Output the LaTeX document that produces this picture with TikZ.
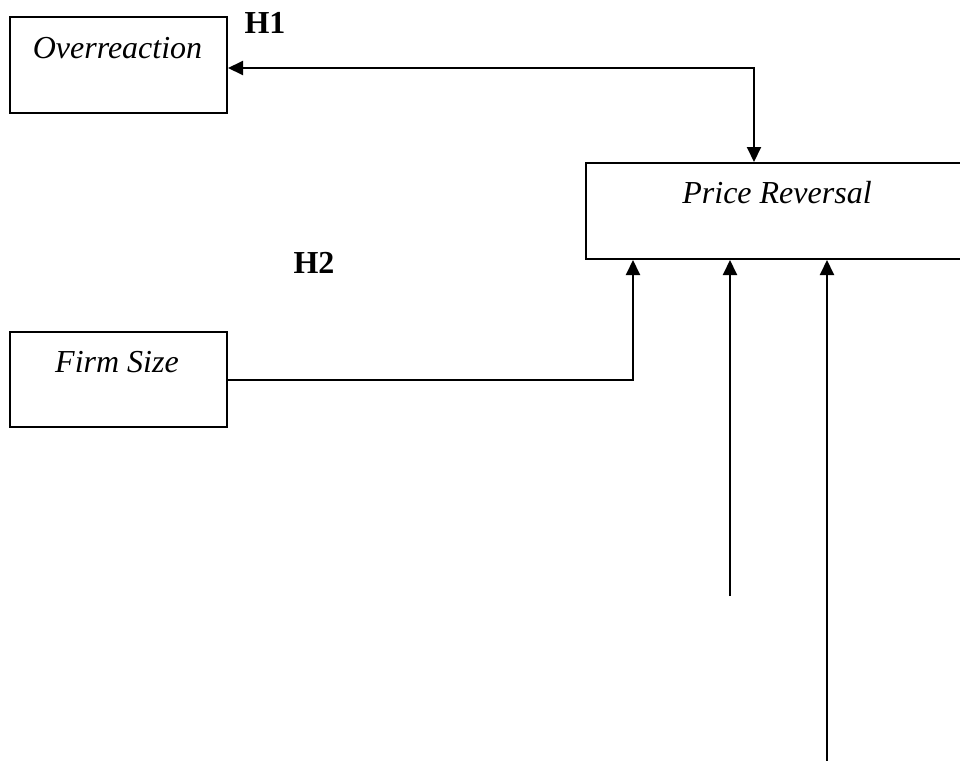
\documentclass[tikz,border=0pt]{standalone}
\usepackage{fontspec}
\setmainfont{Liberation Serif}
\usetikzlibrary{arrows.meta}
\begin{document}
\begin{tikzpicture}[x=0.5pt,y=-0.5pt,
  box/.style={draw,line width=1pt,rectangle,inner sep=0pt},
  lbl/.style={font=\fontsize{16}{19}\selectfont\itshape,anchor=base,inner sep=0pt},
  hyp/.style={font=\fontsize{16}{19}\selectfont\bfseries,anchor=base,inner sep=0pt},
  conn/.style={line width=1pt},
  tip/.style={-{Triangle[length=7.5pt,width=7pt]}},
  tips/.style={{Triangle[length=7.5pt,width=7pt]}-{Triangle[length=7.5pt,width=7pt]}}]
\clip (0,0) rectangle (960,761);
\fill[white] (0,0) rectangle (960,761);
% boxes
\node[box,minimum width=108.5pt,minimum height=48pt] (over) at (118.5,65) {};
\node[box,minimum width=108.5pt,minimum height=47.5pt] (firm) at (118.5,379.5) {};
\node[box,minimum width=191pt,minimum height=48pt] (price) at (777,211) {};
% texts
\node[lbl] (overtxt) at (117.5,58) {Overreaction};
\node[lbl] (firmtxt) at (117,372) {Firm Size};
\node[lbl] (pricetxt) at (777,203) {Price Reversal};
\node[hyp] (h1) at (265,33) {H1};
\node[hyp] (h2) at (314,273) {H2};
% connectors
\coordinate (pin1) at ([xshift=84.5pt]price.north west);
\draw[conn,tips] ([yshift=-1.5pt]over.east) -| (pin1);
\coordinate (pin2) at ([xshift=24pt]price.south west);
\draw[conn,tip] (firm.east) -| (pin2);
\coordinate (free1) at (730,596);
\coordinate (free2) at (827,761);
\draw[conn,tip] (free1) -- (free1 |- price.south);
\draw[conn,tip] (free2) -- (free2 |- price.south);
\end{tikzpicture}
\end{document}
